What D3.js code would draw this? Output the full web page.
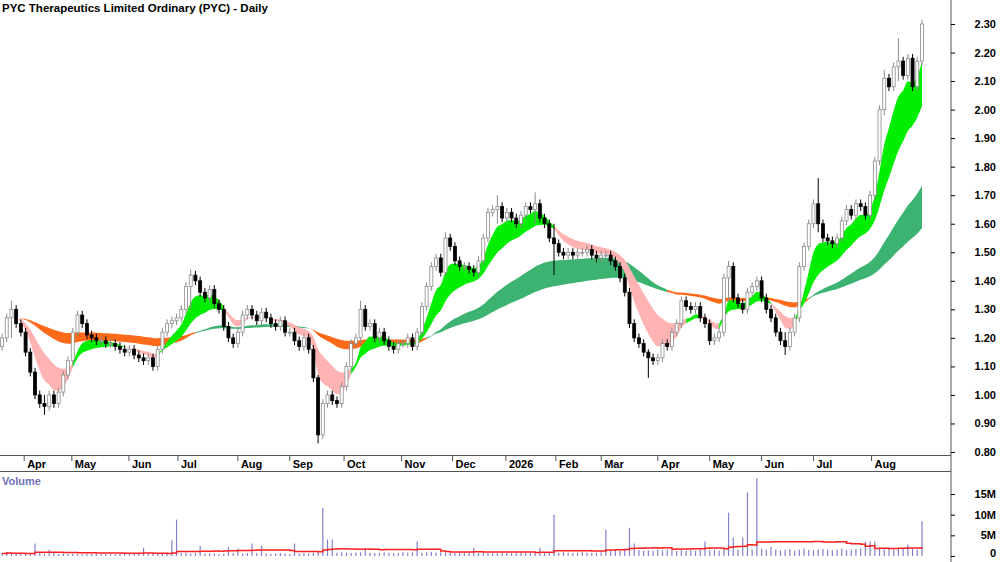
<!DOCTYPE html>
<html><head><meta charset="utf-8">
<script src="https://cdn.jsdelivr.net/npm/d3@7"></script>
<style>body{margin:0;background:#fff}svg{display:block;font-family:"Liberation Sans",Arial,sans-serif}</style>
</head><body><div id="chart"></div>
<script>
const W = 1000, H = 562
const TITLE = 'PYC Therapeutics Limited Ordinary (PYC) - Daily'

// closes, one per bar (open = previous close)
const closes = [
  1.20,1.27,1.30,1.25,1.22,
  1.15,1.08,1.00,0.97,0.96,1.00,0.97,1.01,1.07,1.12,
  1.22,1.28,1.25,1.21,1.20,1.19,1.19,1.18,1.18,1.17,1.16,1.15,
  1.16,1.14,1.13,1.12,1.13,1.10,1.16,1.22,1.25,1.26,1.27,
  1.30,1.38,1.42,1.40,1.36,1.34,1.37,1.32,1.30,1.24,1.20,1.18,1.22,
  1.28,1.30,1.28,1.26,1.29,1.27,1.25,1.24,1.26,1.22,
  1.22,1.19,1.17,1.20,1.16,
  1.06,0.86,0.97,1.00,0.98,0.97,1.03,
  1.10,1.18,1.20,1.30,1.24,1.25,1.20,1.22,1.19,1.17,1.16,1.18,
  1.18,1.20,1.17,1.22,1.31,1.38,1.45,1.48,1.43,1.55,1.52,
  1.47,1.45,1.45,1.44,1.43,1.47,1.55,1.64,1.65,1.66,1.62,
  1.64,1.62,1.60,1.63,1.66,1.65,1.67,1.62,1.60,1.55,1.53,
  1.50,1.49,1.50,1.49,1.50,1.50,1.51,1.49,1.48,1.49,
  1.49,1.47,1.45,1.41,1.36,1.25,1.20,1.18,1.15,1.13,1.12,
  1.13,1.18,1.17,1.22,1.25,1.33,1.31,1.30,1.31,1.27,1.25,
  1.19,1.20,1.22,1.41,1.45,1.34,1.32,1.30,1.36,1.38,1.40,
  1.34,1.30,1.27,1.22,1.19,1.17,1.22,1.27,1.45,1.52,1.60,
  1.67,1.60,1.55,1.54,1.53,1.55,1.61,1.65,1.63,1.67,1.66,1.63,
  1.70,1.82,2.00,2.11,2.08,2.15,2.17,2.12,2.18,2.08,2.17,2.30
]
const firstOpen = 1.17
const wick = 0.015
// notable wicks: [bar, low, high]
const wickOverrides = [[2,1.20,1.33],[9,0.93,1.00],[40,1.30,1.44],[67,0.83,1.07],[76,1.18,1.33],
  [94,1.42,1.57],[105,1.60,1.70],[113,1.60,1.71],[117,1.42,1.60],[137,1.06,1.16],[154,1.33,1.47],
  [166,1.14,1.22],[173,1.57,1.76],[187,1.98,2.14],[190,2.10,2.25]]

// volume in millions, one per bar
const volumes = [
  0.6,0.9,0.5,0.6,0.7,0.5,0.6,3.0,0.8,0.6,1.5,0.7,0.5,0.6,0.5,0.6,0.5,0.4,0.6,0.5,
  0.5,0.6,0.5,0.5,0.4,0.6,0.5,0.5,0.6,0.5,2.0,0.6,0.5,0.7,0.6,0.6,3.8,8.8,0.7,0.8,
  0.6,0.7,2.5,0.6,0.7,0.6,0.5,0.6,2.2,0.7,1.8,0.6,0.7,3.0,0.7,2.5,0.6,0.5,0.6,0.7,
  0.6,0.5,3.0,0.6,0.7,0.6,0.8,0.9,11.6,4.0,4.0,0.8,0.9,0.8,0.7,0.8,0.9,1.5,0.8,0.7,
  0.8,0.9,0.8,0.7,0.8,0.9,0.8,0.9,3.5,0.8,0.9,1.0,0.8,0.9,0.8,0.7,0.8,0.9,0.8,1.0,
  2.0,0.8,0.9,0.8,0.7,0.8,0.9,0.8,0.7,0.8,0.9,0.8,0.7,0.8,2.0,0.8,0.9,10.0,0.8,0.9,
  0.8,0.7,0.8,0.9,0.8,0.7,0.8,0.9,6.4,1.2,1.5,1.3,1.8,6.8,3.0,1.5,1.3,1.4,1.2,1.5,
  1.3,1.6,1.4,1.2,1.5,1.3,1.4,1.2,1.6,3.5,1.4,1.5,1.3,1.6,10.5,4.5,1.5,4.5,15.4,1.6,
  18.8,1.8,1.5,2.2,1.6,1.4,1.5,1.7,1.3,1.6,1.8,1.5,1.4,1.6,1.7,1.5,1.4,1.6,1.8,1.5,
  1.6,1.7,1.9,3.5,3.5,3.5,2.0,1.8,1.7,1.6,1.9,1.7,2.8,1.8,1.6,8.4
]

const monthLabels = ['Apr','May','Jun','Jul','Aug','Sep','Oct','Nov','Dec','2026','Feb','Mar','Apr','May','Jun','Jul','Aug']
const monthBars = [4.7,14.8,26.9,37.3,50,61,72.5,84.7,95.5,106.8,117.4,127,139,150,161,172,184.3]
const priceTicks = [0.8,0.9,1.0,1.1,1.2,1.3,1.4,1.5,1.6,1.7,1.8,1.9,2.0,2.1,2.2,2.3]
const volTicks = [0,5,10,15]
const shortPeriods = [6,7,8,10,12,15]
const longPeriods = [42,48,55,62,70,80]

const bars = closes.map((c, i) => {
  const o = i ? closes[i - 1] : firstOpen
  let lo = Math.min(o, c) - wick, hi = Math.max(o, c) + wick
  const ov = wickOverrides.find(w => w[0] === i)
  if (ov) { lo = ov[1]; hi = ov[2] }
  return { i, o, c, lo, hi, v: volumes[i] || 0 }
})

function ema(p) {
  const k = 2 / (p + 1), out = []
  closes.forEach((c, i) => out.push(i ? out[i - 1] + k * (c - out[i - 1]) : 1.27))
  return out
}
function ribbon(periods) {
  const lines = periods.map(ema)
  return closes.map((_, i) => {
    const vals = lines.map(l => l[i])
    return { i, lo: d3.min(vals), hi: d3.max(vals), up: lines[0][i] >= lines[lines.length - 1][i] }
  })
}

const svg = d3.select('#chart').append('svg').attr('width', W).attr('height', H)
const AX = 951
const x = d3.scaleLinear().domain([0, closes.length - 1]).range([2, 922])
const y = d3.scaleLinear().domain([0.8, 2.3]).range([452, 24])
const yv = d3.scaleLinear().domain([0, 15]).range([556, 494])

// ribbons, split into runs by direction
function drawRibbon(data, upCol, downCol) {
  const runs = []
  data.forEach((d, i) => {
    if (!runs.length || runs[runs.length - 1].up !== d.up) {
      const r = { up: d.up, pts: [] }
      if (i) r.pts.push(data[i - 1])
      runs.push(r)
    }
    runs[runs.length - 1].pts.push(d)
  })
  const area = d3.area().curve(d3.curveMonotoneX).x(d => x(d.i)).y0(d => y(d.lo)).y1(d => y(d.hi))
  runs.forEach(r => svg.append('path').attr('d', area(r.pts)).attr('fill', r.up ? upCol : downCol))
}
drawRibbon(ribbon(longPeriods), '#3cb371', '#ff6a1a')
drawRibbon(ribbon(shortPeriods), '#00ee00', '#ffb3b3')

// candles
const cw = 3
const g = svg.append('g')
g.selectAll('line.w').data(bars).enter().append('line')
  .attr('x1', d => x(d.i)).attr('x2', d => x(d.i))
  .attr('y1', d => y(d.hi)).attr('y2', d => y(d.lo))
  .attr('stroke', d => d.c >= d.o ? '#8c8c8c' : '#000').attr('stroke-width', 1)
g.selectAll('rect').data(bars).enter().append('rect')
  .attr('x', d => x(d.i) - cw / 2)
  .attr('y', d => y(Math.max(d.o, d.c)))
  .attr('width', cw)
  .attr('height', d => Math.max(1, Math.abs(y(d.o) - y(d.c))))
  .attr('fill', d => d.c >= d.o ? '#fff' : '#000')
  .attr('stroke', d => d.c >= d.o ? '#8c8c8c' : '#000').attr('stroke-width', 0.8)

// frame lines
svg.append('line').attr('x1', AX).attr('x2', AX).attr('y1', 0).attr('y2', H).attr('stroke', '#555')
svg.append('line').attr('x1', 0).attr('x2', AX).attr('y1', 455.5).attr('y2', 455.5).attr('stroke', '#555')
svg.append('line').attr('x1', 0).attr('x2', AX).attr('y1', 471.5).attr('y2', 471.5).attr('stroke', '#555')

// price axis
const pAxis = svg.append('g').attr('transform', `translate(${AX},0)`)
  .call(d3.axisRight(y).tickValues(priceTicks).tickFormat(d3.format('.2f')).tickSize(4))
pAxis.select('.domain').remove()
pAxis.selectAll('text').attr('x', 45).attr('text-anchor', 'end')
  .style('font-size', '11px').style('font-weight', 'bold').attr('fill', '#000')

// month axis
svg.selectAll('line.m').data(monthBars).enter().append('line')
  .attr('x1', d => x(d)).attr('x2', d => x(d)).attr('y1', 456).attr('y2', 461).attr('stroke', '#555')
svg.selectAll('text.m').data(monthLabels).enter().append('text')
  .attr('x', (d, i) => x(monthBars[i]) + 3).attr('y', 468)
  .style('font-size', '11px').style('font-weight', 'bold').text(d => d)

// volume
svg.append('g').selectAll('line').data(bars).enter().append('line')
  .attr('x1', d => x(d.i)).attr('x2', d => x(d.i))
  .attr('y1', yv(0)).attr('y2', d => yv(d.v))
  .attr('stroke', '#8080d0').attr('stroke-width', 1.2)
const vma = bars.map((d, i) => ({ i, v: d3.mean(bars.slice(Math.max(0, i - 24), i + 1), b => b.v) }))
svg.append('path').datum(vma)
  .attr('d', d3.line().curve(d3.curveStepAfter).x(d => x(d.i)).y(d => yv(d.v)))
  .attr('fill', 'none').attr('stroke', '#ff2020').attr('stroke-width', 1.5)
const vAxis = svg.append('g').attr('transform', `translate(${AX},0)`)
  .call(d3.axisRight(yv).tickValues(volTicks).tickFormat(d => d ? d + 'M' : '0').tickSize(4))
vAxis.select('.domain').remove()
vAxis.selectAll('text').attr('x', 45).attr('text-anchor', 'end').attr('dy', d => d ? '0.32em' : '0')
  .style('font-size', '11px').style('font-weight', 'bold').attr('fill', '#000')

svg.append('text').attr('x', 2).attr('y', 485).attr('fill', '#7070b8')
  .style('font-size', '11px').style('font-weight', 'bold').text('Volume')
svg.append('text').attr('x', 2).attr('y', 12)
  .style('font-size', '11.5px').style('font-weight', 'bold').text(TITLE)
</script></body></html>
